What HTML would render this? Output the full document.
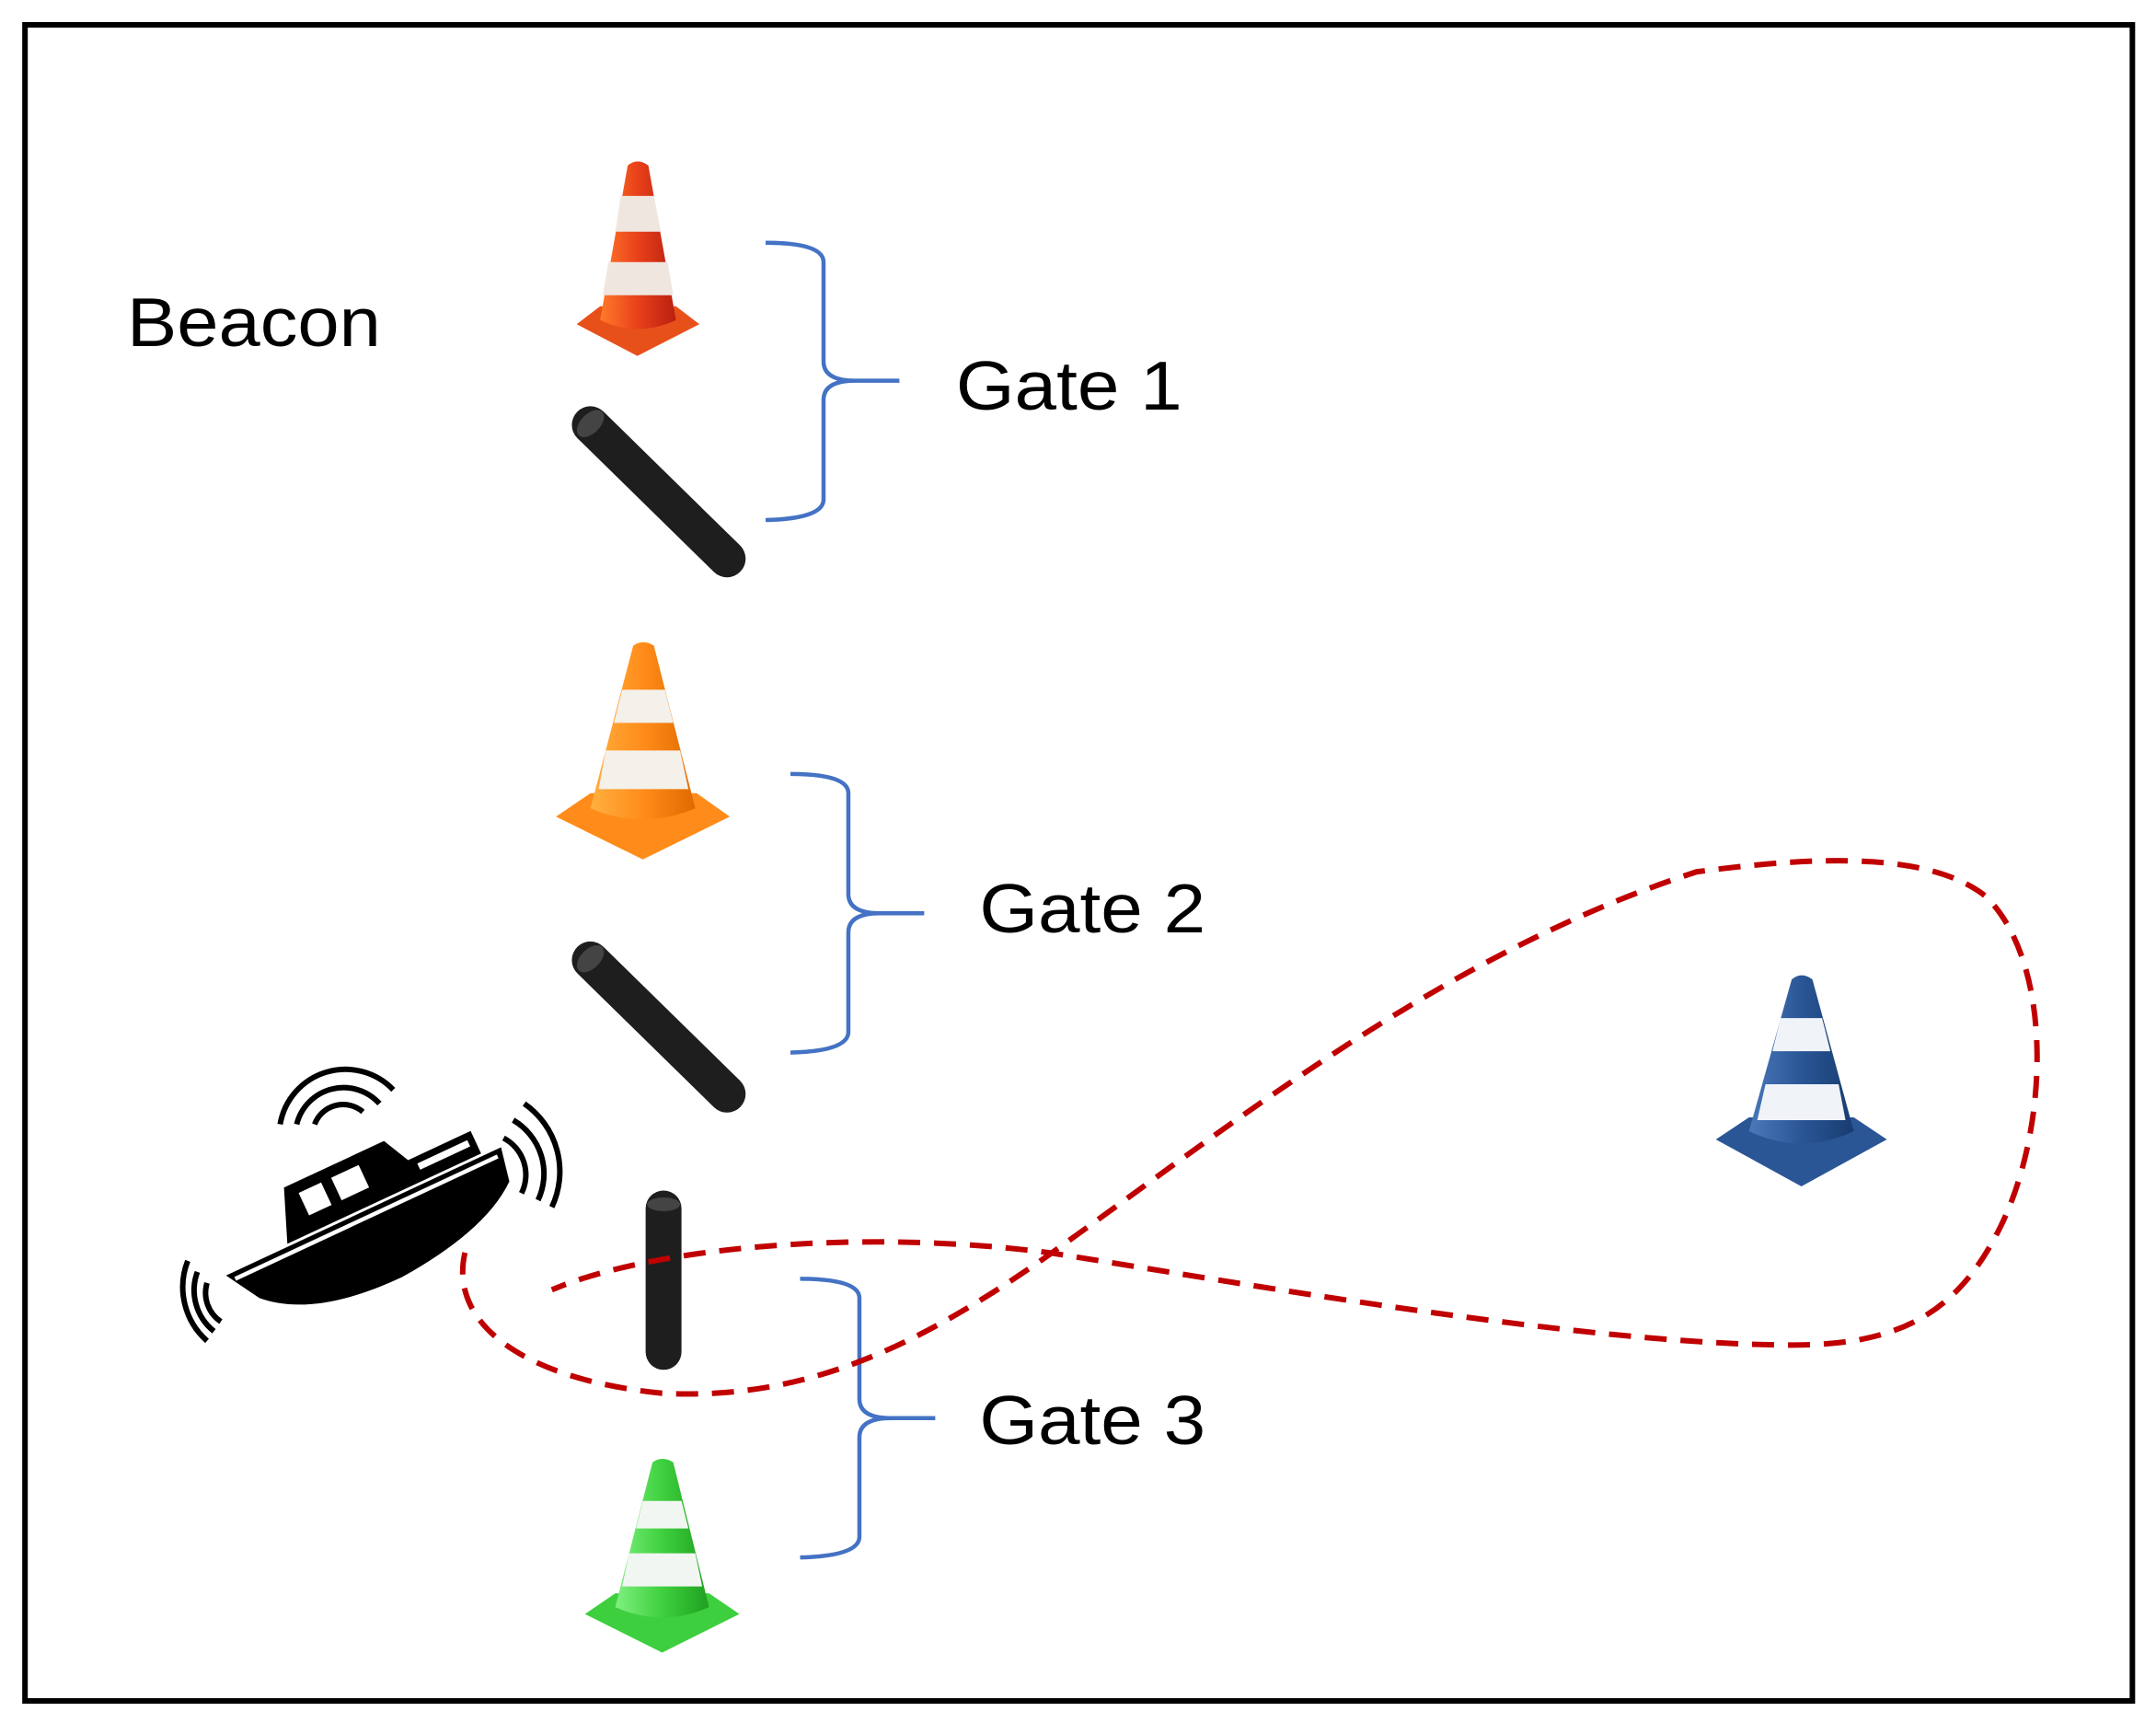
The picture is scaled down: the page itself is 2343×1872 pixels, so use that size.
<!DOCTYPE html>
<html><head><meta charset="utf-8"><style>
html,body{margin:0;padding:0;background:#fff;width:2343px;height:1872px;overflow:hidden}
svg{display:block}
text{font-family:"Liberation Sans",sans-serif;fill:#000}
</style></head><body>
<svg width="2343" height="1872" viewBox="0 0 1563 1249" xmlns="http://www.w3.org/2000/svg">
<defs>
<linearGradient id="gr" x1="0" x2="1"><stop offset="0" stop-color="#ff7a2a"/><stop offset="0.5" stop-color="#e8401a"/><stop offset="1" stop-color="#b82010"/></linearGradient>
<linearGradient id="go" x1="0" x2="1"><stop offset="0" stop-color="#ffb040"/><stop offset="0.5" stop-color="#ff8c1a"/><stop offset="1" stop-color="#e06a00"/></linearGradient>
<linearGradient id="gg" x1="0" x2="1"><stop offset="0" stop-color="#80f080"/><stop offset="0.5" stop-color="#3ed03e"/><stop offset="1" stop-color="#20a020"/></linearGradient>
<linearGradient id="gb" x1="0" x2="1"><stop offset="0" stop-color="#4a78b8"/><stop offset="0.5" stop-color="#2a5696"/><stop offset="1" stop-color="#183c70"/></linearGradient>
</defs>
<rect x="18" y="18" width="1528" height="1215" fill="#fff" stroke="#000" stroke-width="4"/>
<text x="92" y="251" font-size="50" textLength="184" lengthAdjust="spacingAndGlyphs">Beacon</text>
<text x="693" y="297" font-size="50" textLength="164" lengthAdjust="spacingAndGlyphs">Gate 1</text>
<text x="710" y="676" font-size="50" textLength="164" lengthAdjust="spacingAndGlyphs">Gate 2</text>
<text x="710" y="1047" font-size="50" textLength="164" lengthAdjust="spacingAndGlyphs">Gate 3</text>

<g fill="none" stroke="#4472c4" stroke-width="3">
<path d="M555,176 Q597,176 597,190 L597,262 Q597,276 620,276 L652,276 M620,276 Q597,276 597,290 L597,362 Q597,376 555,377"/>
<path d="M573,561 Q615,561 615,575 L615,648 Q615,662 638,662 L670,662 M638,662 Q615,662 615,676 L615,748 Q615,762 573,763"/>
<path d="M580,927 Q623,927 623,941 L623,1014 Q623,1028 646,1028 L678,1028 M646,1028 Q623,1028 623,1042 L623,1114 Q623,1128 580,1129"/>
</g>

<g>
<path d="M418,235 L462,258 L507,235 L490,222 L435,222 Z" fill="#e8501a"/>
<path d="M455,120 Q462,114 470,120 L490,232 Q462,245 435,232 Z" fill="url(#gr)"/>
<path d="M450,142 L474,142 L479,168 L446,168 Z" fill="#f0e6e0"/>
<path d="M441,190 L484,190 L488,214 L437,214 Z" fill="#f0e6e0"/>
</g>
<g>
<path d="M403,592 L466,623 L529,592 L505,575 L428,575 Z" fill="#ff8c1a"/>
<path d="M459,468 Q466,463 474,468 L504,586 Q466,602 428,586 Z" fill="url(#go)"/>
<path d="M451,500 L482,500 L488,524 L445,524 Z" fill="#f4f0ea"/>
<path d="M439,544 L493,544 L499,572 L434,572 Z" fill="#f4f0ea"/>
</g>
<g>
<path d="M424,1170 L480,1198 L536,1170 L514,1155 L446,1155 Z" fill="#3ecf3e"/>
<path d="M473,1060 Q480,1055 488,1060 L514,1165 Q480,1180 446,1165 Z" fill="url(#gg)"/>
<path d="M466,1088 L494,1088 L499,1108 L461,1108 Z" fill="#f2f6f2"/>
<path d="M456,1126 L504,1126 L509,1150 L451,1150 Z" fill="#f2f6f2"/>
</g>
<g>
<path d="M1244,826 L1306,860 L1368,826 L1344,810 L1268,810 Z" fill="#2a5696"/>
<path d="M1299,710 Q1306,704 1314,710 L1344,820 Q1306,838 1268,820 Z" fill="url(#gb)"/>
<path d="M1291,738 L1321,738 L1327,762 L1285,762 Z" fill="#f0f3f8"/>
<path d="M1280,786 L1333,786 L1338,812 L1274,812 Z" fill="#f0f3f8"/>
</g>

<g stroke-linecap="round">
<line x1="428" y1="308" x2="527" y2="405" stroke="#1e1e1e" stroke-width="27"/>
<ellipse cx="428" cy="307" rx="12" ry="7" transform="rotate(-45 428 307)" fill="#444"/>
<line x1="428" y1="696" x2="527" y2="793" stroke="#1e1e1e" stroke-width="27"/>
<ellipse cx="428" cy="695" rx="12" ry="7" transform="rotate(-45 428 695)" fill="#444"/>
<line x1="481" y1="876" x2="481" y2="980" stroke="#1e1e1e" stroke-width="26"/>
<ellipse cx="481" cy="873" rx="12" ry="5" fill="#444"/>
</g>

<g transform="rotate(-25 255 860)">
<path d="M145,880 L365,880 L360,905 Q330,930 260,935 Q190,935 160,905 Z" fill="#000"/>
<path d="M195,878 L210,840 L290,840 L300,860 L350,860 L350,878 Z" fill="#000"/>
<rect x="218" y="848" width="18" height="18" fill="#fff"/>
<rect x="244" y="848" width="22" height="18" fill="#fff"/>
<rect x="305" y="865" width="40" height="5" fill="#fff"/>
<path d="M150,885 L360,885" stroke="#fff" stroke-width="3"/>
</g>
<g fill="none" stroke="#000" stroke-width="4">
<path d="M215,815 A35,35 0 0 1 275,800"/>
<path d="M203,815 A48,48 0 0 1 285,790"/>
<path d="M228,815 A22,22 0 0 1 263,806"/>
<path d="M365,825 A30,30 0 0 1 378,865"/>
<path d="M372,812 A45,45 0 0 1 390,870"/>
<path d="M380,800 A60,60 0 0 1 400,875"/>
<path d="M150,930 A25,25 0 0 0 160,958"/>
<path d="M143,922 A38,38 0 0 0 155,965"/>
<path d="M136,914 A52,52 0 0 0 150,972"/>
</g>

<path d="M337,908 C325,960 380,1000 480,1010 C580,1015 660,980 760,910 C900,810 1050,690 1230,632 C1320,620 1400,618 1440,650 C1490,700 1485,820 1450,890 C1420,950 1380,975 1300,975 C1150,975 900,930 760,908 C620,890 470,905 400,935" fill="none" stroke="#c00000" stroke-width="4" stroke-dasharray="16 10"/>
</svg>
</body></html>
